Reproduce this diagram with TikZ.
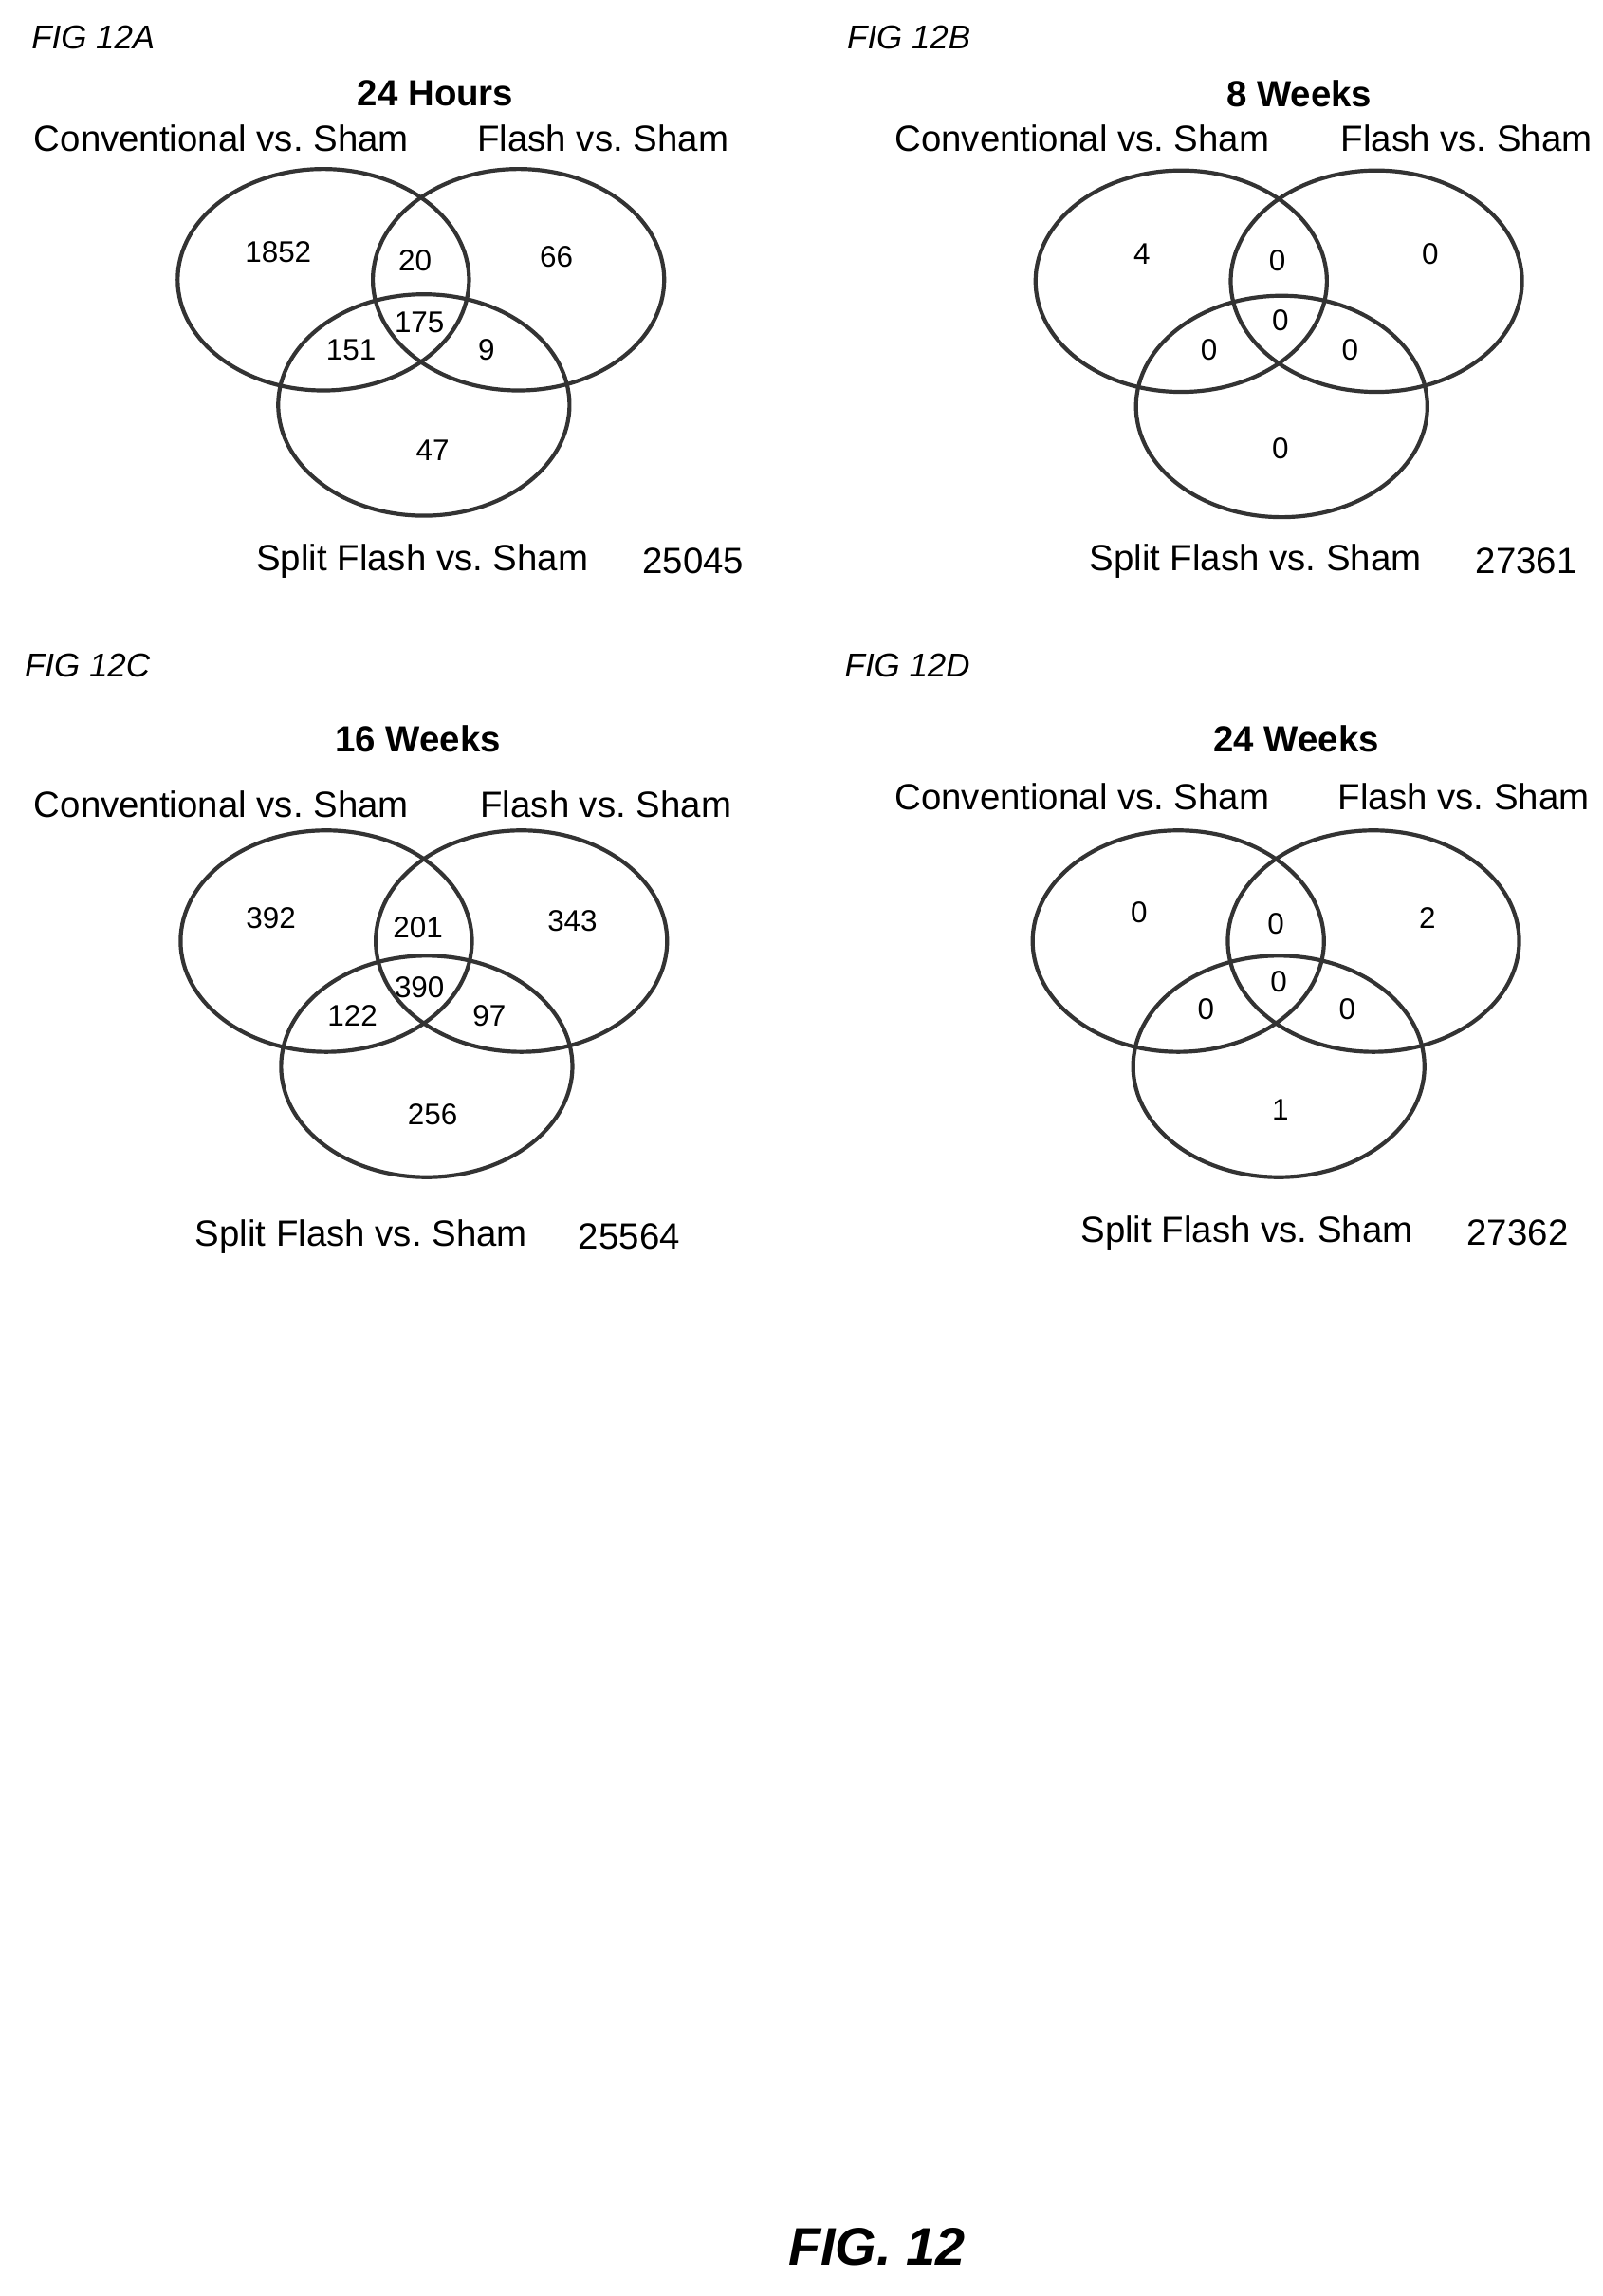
\documentclass[tikz,border=0pt]{standalone}
\usepackage{fontspec}
\setmainfont{Liberation Sans}
\tikzset{
  setring/.style={draw=black!80,line width=1.2pt},
  settitle/.style={font=\bfseries\fontsize{11}{13}\selectfont},
  setlabel/.style={font=\fontsize{11}{13}\selectfont},
  setcount/.style={font=\fontsize{9}{11}\selectfont},
  panelname/.style={font=\itshape\fontsize{10}{12}\selectfont}
}
% the three rings of one panel
\newcommand{\vennrings}{%
  \draw[setring] (222,192) ellipse (100 and 76);
  \draw[setring] (356,192) ellipse (100 and 76);
  \draw[setring] (291,278) ellipse (100 and 76);
}
\begin{document}
\begin{tikzpicture}[x=0.01545cm,y=-0.01545cm]
  \useasboundingbox (0,0) rectangle (1100,1576);

  % FIG 12A
  \node[panelname] (nameA) at (64,26) {FIG 12A};
  \vennrings
  \node[settitle] (titleA) at (299,64) {24 Hours};
  \node[setlabel] (convA) at (152,95) {Conventional vs.\ Sham};
  \node[setlabel] (flashA) at (414,95) {Flash vs.\ Sham};
  \node[setlabel] (splitA) at (290,385) {Split Flash vs.\ Sham};
  \node[setlabel] (restA) at (476,385) {25045};
  \node[setcount] (a1) at (191,173) {1852};
  \node[setcount] (a2) at (285,179) {20};
  \node[setcount] (a3) at (382,176) {66};
  \node[setcount] (a4) at (241,240) {151};
  \node[setcount] (a5) at (288,221) {175};
  \node[setcount] (a6) at (334,240) {9};
  \node[setcount] (a7) at (297,309) {47};

  % FIG 12B
  \node[panelname] (nameB) at (624,26) {FIG 12B};
  \begin{scope}[shift={(589,1)}]
    \vennrings
  \end{scope}
  \node[settitle] (titleB) at (892,64) {8 Weeks};
  \node[setlabel] (convB) at (743,95) {Conventional vs.\ Sham};
  \node[setlabel] (flashB) at (1007,95) {Flash vs.\ Sham};
  \node[setlabel] (splitB) at (862,385) {Split Flash vs.\ Sham};
  \node[setlabel] (restB) at (1048,385) {27361};
  \node[setcount] (b1) at (784,174) {4};
  \node[setcount] (b2) at (877,179) {0};
  \node[setcount] (b3) at (982,174) {0};
  \node[setcount] (b4) at (830,240) {0};
  \node[setcount] (b5) at (879,220) {0};
  \node[setcount] (b6) at (927,240) {0};
  \node[setcount] (b7) at (879,308) {0};

  % FIG 12C
  \node[panelname] (nameC) at (60,457) {FIG 12C};
  \begin{scope}[shift={(2,454)}]
    \vennrings
  \end{scope}
  \node[settitle] (titleC) at (287,507) {16 Weeks};
  \node[setlabel] (convC) at (152,552) {Conventional vs.\ Sham};
  \node[setlabel] (flashC) at (416,552) {Flash vs.\ Sham};
  \node[setlabel] (splitC) at (248,849) {Split Flash vs.\ Sham};
  \node[setlabel] (restC) at (432,849) {25564};
  \node[setcount] (c1) at (186,630) {392};
  \node[setcount] (c2) at (287,637) {201};
  \node[setcount] (c3) at (393,632) {343};
  \node[setcount] (c4) at (242,697) {122};
  \node[setcount] (c5) at (288,678) {390};
  \node[setcount] (c6) at (336,697) {97};
  \node[setcount] (c7) at (297,765) {256};

  % FIG 12D
  \node[panelname] (nameD) at (623,457) {FIG 12D};
  \begin{scope}[shift={(587,454)}]
    \vennrings
  \end{scope}
  \node[settitle] (titleD) at (890,507) {24 Weeks};
  \node[setlabel] (convD) at (743,547) {Conventional vs.\ Sham};
  \node[setlabel] (flashD) at (1005,547) {Flash vs.\ Sham};
  \node[setlabel] (splitD) at (856,846) {Split Flash vs.\ Sham};
  \node[setlabel] (restD) at (1042,846) {27362};
  \node[setcount] (d1) at (782,626) {0};
  \node[setcount] (d2) at (876,634) {0};
  \node[setcount] (d3) at (980,630) {2};
  \node[setcount] (d4) at (828,693) {0};
  \node[setcount] (d5) at (878,674) {0};
  \node[setcount] (d6) at (925,693) {0};
  \node[setcount] (d7) at (879,762) {1};

  \node[font=\bfseries\itshape\fontsize{16}{18}\selectfont] (fig) at (602,1542) {FIG. 12};
\end{tikzpicture}
\end{document}
